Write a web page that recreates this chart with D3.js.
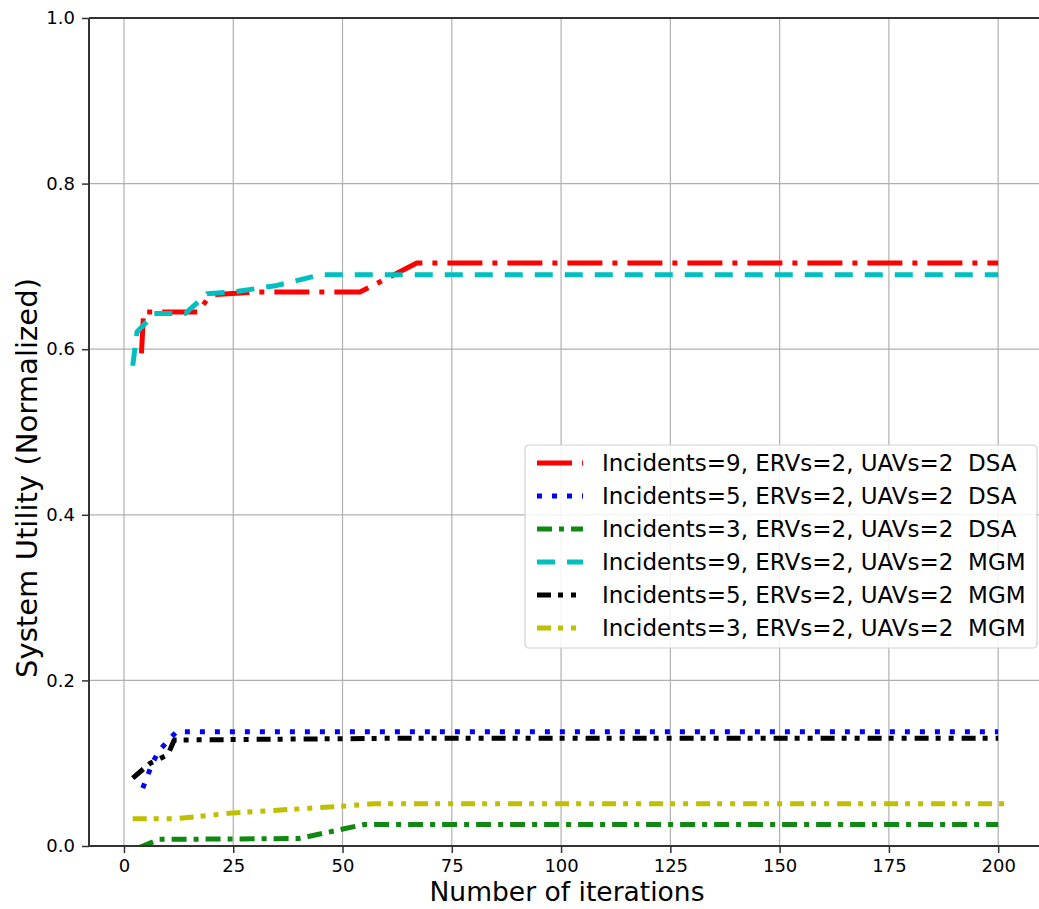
<!DOCTYPE html>
<html>
<head>
<meta charset="utf-8">
<script src="https://cdn.jsdelivr.net/npm/d3@7"></script>
<style>
  body { margin: 0; background: #fff; }
  text { font-family: "DejaVu Sans", sans-serif; fill: #000; }
</style>
</head>
<body>
<div id="chart"></div>
<script>
'use strict';

// iterations and utility values, one pair of arrays per run
var dsa9Iter = [4, 4.5, 17, 19, 21, 30, 54, 67, 200];
var dsa9Val  = [0.595, 0.645, 0.645, 0.66, 0.666, 0.669, 0.669, 0.704, 0.704];
var dsa5Iter = [4.3, 6.5, 8, 12, 200];
var dsa5Val  = [0.07, 0.1, 0.115, 0.138, 0.138];
var dsa3Iter = [3.5, 8, 40, 55, 200];
var dsa3Val  = [-0.002, 0.008, 0.009, 0.026, 0.026];
var mgm9Iter = [2, 3, 5, 6.5, 14, 19, 25, 35, 45, 200];
var mgm9Val  = [0.58, 0.621, 0.632, 0.643, 0.643, 0.667, 0.669, 0.677, 0.69, 0.69];
var mgm5Iter = [2, 6, 10, 11.5, 60, 200];
var mgm5Val  = [0.082, 0.1, 0.11, 0.128, 0.13, 0.13];
var mgm3Iter = [2, 12, 25, 50, 57, 202];
var mgm3Val  = [0.033, 0.033, 0.04, 0.048, 0.051, 0.051];

var seriesNames = [
  'Incidents=9, ERVs=2, UAVs=2  DSA',
  'Incidents=5, ERVs=2, UAVs=2  DSA',
  'Incidents=3, ERVs=2, UAVs=2  DSA',
  'Incidents=9, ERVs=2, UAVs=2  MGM',
  'Incidents=5, ERVs=2, UAVs=2  MGM',
  'Incidents=3, ERVs=2, UAVs=2  MGM'
];
var seriesIters = [dsa9Iter, dsa5Iter, dsa3Iter, mgm9Iter, mgm5Iter, mgm3Iter];
var seriesVals = [dsa9Val, dsa5Val, dsa3Val, mgm9Val, mgm5Val, mgm3Val];

var xTicks = [0, 25, 50, 75, 100, 125, 150, 175, 200];
var yTicks = [0, 0.2, 0.4, 0.6, 0.8, 1.0];

// line styles, matplotlib-like
var styles = [
  { color: '#ff0000', dash: '35,10,5,10', width: 5 },
  { color: '#0000ff', dash: '5,10', width: 5 },
  { color: '#118811', dash: '15,7,5,7', width: 5 },
  { color: '#00bfbf', dash: '18,12', width: 5 },
  { color: '#000000', dash: '14,7,5,8,5,8', width: 5 },
  { color: '#bfbf00', dash: '14,7,5,8,5,8', width: 5 }
];

var W = 1039, H = 909;
var plot = { left: 89, right: 1055, top: 18, bottom: 846 };

var x = d3.scaleLinear().domain([-8, 213]).range([plot.left, plot.right]);
var y = d3.scaleLinear().domain([0, 1]).range([plot.bottom, plot.top]);

var svg = d3.select('#chart').append('svg')
    .attr('width', W)
    .attr('height', H);

svg.append('clipPath').attr('id', 'clip')
  .append('rect')
    .attr('x', plot.left)
    .attr('y', plot.top)
    .attr('width', plot.right - plot.left)
    .attr('height', plot.bottom - plot.top);

// grid
var grid = svg.append('g').attr('stroke', '#b0b0b0').attr('stroke-width', 1.2);
grid.selectAll('line.gx').data(xTicks).enter().append('line')
    .attr('x1', function(d) { return x(d); })
    .attr('x2', function(d) { return x(d); })
    .attr('y1', plot.top)
    .attr('y2', plot.bottom);
grid.selectAll('line.gy').data(yTicks).enter().append('line')
    .attr('x1', plot.left)
    .attr('x2', plot.right)
    .attr('y1', function(d) { return y(d); })
    .attr('y2', function(d) { return y(d); });

// series
var line = d3.line()
    .x(function(d) { return x(d[0]); })
    .y(function(d) { return y(d[1]); });

var gLines = svg.append('g').attr('clip-path', 'url(#clip)');
seriesIters.forEach(function(iters, i) {
  var pts = iters.map(function(it, j) { return [it, seriesVals[i][j]]; });
  gLines.append('path')
      .attr('d', line(pts))
      .attr('fill', 'none')
      .attr('stroke', styles[i].color)
      .attr('stroke-width', styles[i].width)
      .attr('stroke-dasharray', styles[i].dash)
      .attr('stroke-linecap', 'butt')
      .attr('stroke-linejoin', 'round');
});

// axes
var xAxis = svg.append('g')
    .attr('transform', 'translate(0,' + plot.bottom + ')')
    .call(d3.axisBottom(x).tickValues(xTicks).tickSize(7).tickPadding(6).tickFormat(d3.format('d')));
var yAxis = svg.append('g')
    .attr('transform', 'translate(' + plot.left + ',0)')
    .call(d3.axisLeft(y).tickValues(yTicks).tickSize(7).tickPadding(7).tickFormat(d3.format('.1f')));

[xAxis, yAxis].forEach(function(a) {
  a.select('.domain').remove();
  a.selectAll('.tick line').attr('stroke', '#333').attr('stroke-width', 1.5);
  a.selectAll('.tick text').attr('font-family', 'DejaVu Sans').attr('font-size', 18).attr('fill', '#222');
});

// spines
var spines = svg.append('g').attr('stroke', '#333').attr('stroke-width', 2).attr('fill', 'none');
spines.append('line').attr('x1', plot.left).attr('x2', plot.left).attr('y1', plot.top).attr('y2', plot.bottom);
spines.append('line').attr('x1', plot.left).attr('x2', plot.right).attr('y1', plot.bottom).attr('y2', plot.bottom);
spines.append('line').attr('x1', plot.left).attr('x2', plot.right).attr('y1', plot.top).attr('y2', plot.top);
spines.append('line').attr('x1', plot.right).attr('x2', plot.right).attr('y1', plot.top).attr('y2', plot.bottom);

// labels
svg.append('text')
    .attr('x', 567)
    .attr('y', 901)
    .attr('text-anchor', 'middle')
    .attr('font-size', 26)
    .attr('textLength', 275)
    .attr('lengthAdjust', 'spacingAndGlyphs')
    .attr('fill', '#222')
    .text('Number of iterations');

svg.append('text')
    .attr('transform', 'translate(37,' + 478 + ') rotate(-90)')
    .attr('text-anchor', 'middle')
    .attr('font-size', 28)
    .attr('textLength', 400)
    .attr('lengthAdjust', 'spacingAndGlyphs')
    .attr('fill', '#222')
    .text('System Utility (Normalized)');

// legend
var leg = svg.append('g').attr('transform', 'translate(525,445)');
leg.append('rect')
    .attr('width', 512)
    .attr('height', 203)
    .attr('rx', 4)
    .attr('fill', '#fff')
    .attr('fill-opacity', 0.85)
    .attr('stroke', '#d0d0d0')
    .attr('stroke-width', 1.2);

var rows = leg.selectAll('g.row').data(seriesNames).enter().append('g')
    .attr('transform', function(d, i) { return 'translate(0,' + (18 + i * 33) + ')'; });
rows.append('line')
    .attr('x1', 12)
    .attr('x2', 58)
    .attr('stroke', function(d, i) { return styles[i].color; })
    .attr('stroke-width', function(d, i) { return styles[i].width; })
    .attr('stroke-dasharray', function(d, i) { return styles[i].dash; });
rows.append('text')
    .attr('x', 77)
    .attr('dy', '0.36em')
    .attr('font-size', 23)
    .attr('fill', '#222')
    .style('white-space', 'pre')
    .text(function(d) { return d; });
</script>
</body>
</html>
